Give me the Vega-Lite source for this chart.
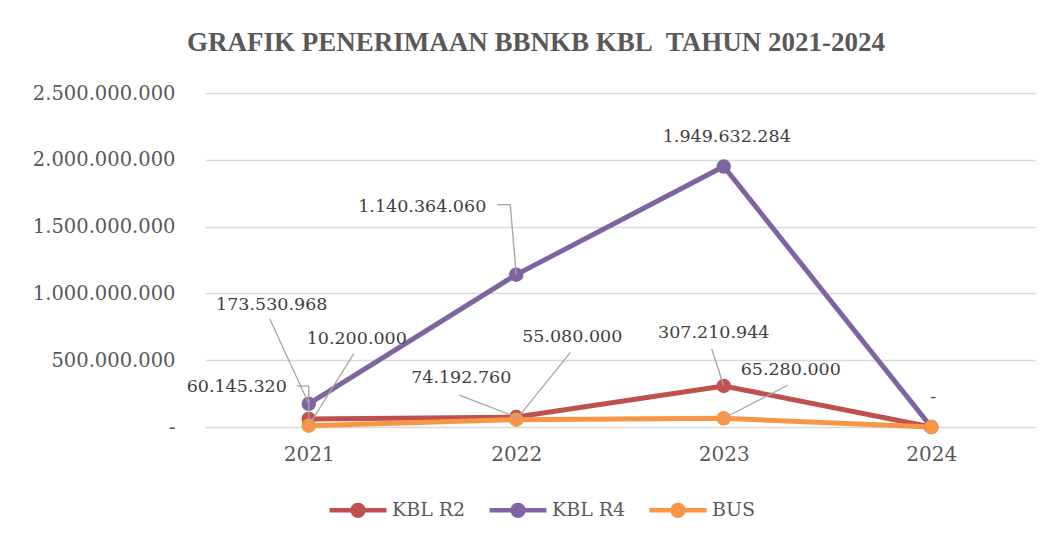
{
  "$schema": "https://vega.github.io/schema/vega-lite/v6.json",
  "width": 830,
  "height": 334,
  "autosize": "none",
  "padding": {"left": 205, "top": 93, "right": 17, "bottom": 115},
  "background": "white",
  "title": {
    "text": "GRAFIK PENERIMAAN BBNKB KBL\u00a0 TAHUN 2021-2024",
    "font": "Liberation Serif",
    "fontSize": 27,
    "fontWeight": "bold",
    "color": "#595959",
    "anchor": "middle",
    "frame": "group",
    "dx": -84,
    "offset": 26
  },
  "data": {
    "values": [
      {"series": "KBL R2", "year": "2021", "value": 60145320},
      {"series": "KBL R2", "year": "2022", "value": 74192760},
      {"series": "KBL R2", "year": "2023", "value": 307210944},
      {"series": "KBL R2", "year": "2024", "value": 0},
      {"series": "KBL R4", "year": "2021", "value": 173530968},
      {"series": "KBL R4", "year": "2022", "value": 1140364060},
      {"series": "KBL R4", "year": "2023", "value": 1949632284},
      {"series": "KBL R4", "year": "2024", "value": 0},
      {"series": "BUS", "year": "2021", "value": 10200000},
      {"series": "BUS", "year": "2022", "value": 55080000},
      {"series": "BUS", "year": "2023", "value": 65280000},
      {"series": "BUS", "year": "2024", "value": 0}
    ]
  },
  "transform": [
    {"calculate": "datum.value == 0 ? '-' : replace(format(datum.value, ','), regexp(',', 'g'), '.')", "as": "label"}
  ],
  "encoding": {
    "x": {
      "field": "year",
      "type": "ordinal",
      "scale": {"type": "point", "padding": 0.5},
      "axis": {
        "title": null,
        "domain": false,
        "ticks": false,
        "grid": false,
        "labelAngle": 0,
        "labelFont": "DejaVu Serif",
        "labelFontSize": 20,
        "labelColor": "#595959",
        "labelPadding": 17
      }
    },
    "y": {
      "field": "value",
      "type": "quantitative",
      "scale": {"domain": [0, 2500000000], "nice": false},
      "axis": {
        "title": null,
        "values": [0, 500000000, 1000000000, 1500000000, 2000000000, 2500000000],
        "domain": false,
        "ticks": false,
        "grid": true,
        "gridColor": "#d9d9d9",
        "gridWidth": 1.5,
        "labelFont": "DejaVu Serif",
        "labelFontSize": 19.5,
        "labelColor": "#595959",
        "labelPadding": 30,
        "labelExpr": "datum.value == 0 ? '-' : replace(format(datum.value, ','), regexp(',', 'g'), '.')"
      }
    }
  },
  "layer": [
    {
      "mark": {"type": "line", "strokeWidth": 5},
      "encoding": {
        "color": {
          "field": "series",
          "type": "nominal",
          "title": null,
          "scale": {"domain": ["KBL R2", "KBL R4", "BUS"], "range": ["#C0504D", "#8064A2", "#F79646"]}
        }
      }
    },
    {
      "mark": {"type": "point", "filled": true, "size": 210, "opacity": 1},
      "encoding": {
        "color": {
          "field": "series",
          "type": "nominal",
          "title": null,
          "scale": {"domain": ["KBL R2", "KBL R4", "BUS"], "range": ["#C0504D", "#8064A2", "#F79646"]}
        }
      }
    },
    {
      "transform": [{"filter": "datum.series == 'KBL R4' && datum.year == '2021'"}],
      "mark": {"type": "rule", "color": "#a6a6a6", "strokeWidth": 1.3, "x2Offset": -39, "y2Offset": -85},
      "encoding": {"x2": {"field": "year"}, "y2": {"field": "value"}}
    },
    {
      "transform": [{"filter": "datum.series == 'BUS' && datum.year == '2021'"}],
      "mark": {"type": "rule", "color": "#a6a6a6", "strokeWidth": 1.3, "x2Offset": 45, "y2Offset": -72},
      "encoding": {"x2": {"field": "year"}, "y2": {"field": "value"}}
    },
    {
      "transform": [{"filter": "datum.series == 'KBL R2' && datum.year == '2021'"}],
      "mark": {"type": "rule", "color": "#a6a6a6", "strokeWidth": 1.3, "x2Offset": 0, "y2Offset": -33},
      "encoding": {"x2": {"field": "year"}, "y2": {"field": "value"}}
    },
    {
      "transform": [{"filter": "datum.series == 'KBL R2' && datum.year == '2021'"}],
      "mark": {"type": "rule", "color": "#a6a6a6", "strokeWidth": 1.3, "yOffset": -33, "x2Offset": -12, "y2Offset": -33},
      "encoding": {"x2": {"field": "year"}, "y2": {"field": "value"}}
    },
    {
      "transform": [{"filter": "datum.series == 'KBL R4' && datum.year == '2022'"}],
      "mark": {"type": "rule", "color": "#a6a6a6", "strokeWidth": 1.3, "x2Offset": -6, "y2Offset": -70},
      "encoding": {"x2": {"field": "year"}, "y2": {"field": "value"}}
    },
    {
      "transform": [{"filter": "datum.series == 'KBL R4' && datum.year == '2022'"}],
      "mark": {"type": "rule", "color": "#a6a6a6", "strokeWidth": 1.3, "xOffset": -6, "yOffset": -70, "x2Offset": -19, "y2Offset": -70},
      "encoding": {"x2": {"field": "year"}, "y2": {"field": "value"}}
    },
    {
      "transform": [{"filter": "datum.series == 'KBL R2' && datum.year == '2022'"}],
      "mark": {"type": "rule", "color": "#a6a6a6", "strokeWidth": 1.3, "x2Offset": -57, "y2Offset": -22},
      "encoding": {"x2": {"field": "year"}, "y2": {"field": "value"}}
    },
    {
      "transform": [{"filter": "datum.series == 'BUS' && datum.year == '2022'"}],
      "mark": {"type": "rule", "color": "#a6a6a6", "strokeWidth": 1.3, "x2Offset": 54, "y2Offset": -67},
      "encoding": {"x2": {"field": "year"}, "y2": {"field": "value"}}
    },
    {
      "transform": [{"filter": "datum.series == 'KBL R2' && datum.year == '2023'"}],
      "mark": {"type": "rule", "color": "#a6a6a6", "strokeWidth": 1.3, "x2Offset": -12, "y2Offset": -37},
      "encoding": {"x2": {"field": "year"}, "y2": {"field": "value"}}
    },
    {
      "transform": [{"filter": "datum.series == 'BUS' && datum.year == '2023'"}],
      "mark": {"type": "rule", "color": "#a6a6a6", "strokeWidth": 1.3, "x2Offset": 64, "y2Offset": -33},
      "encoding": {"x2": {"field": "year"}, "y2": {"field": "value"}}
    },
    {
      "transform": [{"filter": "datum.series == 'KBL R4' && datum.year == '2021'"}],
      "mark": {"type": "text", "font": "DejaVu Serif", "fontSize": 17.5, "color": "#404040", "dx": -37, "dy": -99},
      "encoding": {"text": {"field": "label"}}
    },
    {
      "transform": [{"filter": "datum.series == 'BUS' && datum.year == '2021'"}],
      "mark": {"type": "text", "font": "DejaVu Serif", "fontSize": 17.5, "color": "#404040", "dx": 48, "dy": -87},
      "encoding": {"text": {"field": "label"}}
    },
    {
      "transform": [{"filter": "datum.series == 'KBL R2' && datum.year == '2021'"}],
      "mark": {"type": "text", "font": "DejaVu Serif", "fontSize": 17.5, "color": "#404040", "dx": -72, "dy": -32},
      "encoding": {"text": {"field": "label"}}
    },
    {
      "transform": [{"filter": "datum.series == 'KBL R4' && datum.year == '2022'"}],
      "mark": {"type": "text", "font": "DejaVu Serif", "fontSize": 17.5, "color": "#404040", "dx": -94, "dy": -68},
      "encoding": {"text": {"field": "label"}}
    },
    {
      "transform": [{"filter": "datum.series == 'KBL R2' && datum.year == '2022'"}],
      "mark": {"type": "text", "font": "DejaVu Serif", "fontSize": 17.5, "color": "#404040", "dx": -55, "dy": -39},
      "encoding": {"text": {"field": "label"}}
    },
    {
      "transform": [{"filter": "datum.series == 'BUS' && datum.year == '2022'"}],
      "mark": {"type": "text", "font": "DejaVu Serif", "fontSize": 17.5, "color": "#404040", "dx": 56, "dy": -83},
      "encoding": {"text": {"field": "label"}}
    },
    {
      "transform": [{"filter": "datum.series == 'KBL R4' && datum.year == '2023'"}],
      "mark": {"type": "text", "font": "DejaVu Serif", "fontSize": 17.5, "color": "#404040", "dx": 3, "dy": -30},
      "encoding": {"text": {"field": "label"}}
    },
    {
      "transform": [{"filter": "datum.series == 'KBL R2' && datum.year == '2023'"}],
      "mark": {"type": "text", "font": "DejaVu Serif", "fontSize": 17.5, "color": "#404040", "dx": -10, "dy": -53},
      "encoding": {"text": {"field": "label"}}
    },
    {
      "transform": [{"filter": "datum.series == 'BUS' && datum.year == '2023'"}],
      "mark": {"type": "text", "font": "DejaVu Serif", "fontSize": 17.5, "color": "#404040", "dx": 67, "dy": -48},
      "encoding": {"text": {"field": "label"}}
    },
    {
      "transform": [{"filter": "datum.series == 'KBL R4' && datum.year == '2024'"}],
      "mark": {"type": "text", "font": "DejaVu Serif", "fontSize": 17.5, "color": "#404040", "dx": 2, "dy": -30},
      "encoding": {"text": {"field": "label"}}
    }
  ],
  "config": {
    "view": {"stroke": null},
    "legend": {
      "orient": "none",
      "legendX": 122,
      "legendY": 386,
      "direction": "horizontal",
      "padding": 0,
      "symbolType": "M-1,0H1M-0.19,0A0.19,0.19 0 1,0 0.19,0A0.19,0.19 0 1,0 -0.19,0Z",
      "symbolSize": 3249,
      "symbolStrokeWidth": 4.5,
      "symbolOpacity": 1,
      "labelFont": "DejaVu Serif",
      "labelFontSize": 19,
      "labelColor": "#595959",
      "labelOffset": 3,
      "columnPadding": 14
    }
  }
}
